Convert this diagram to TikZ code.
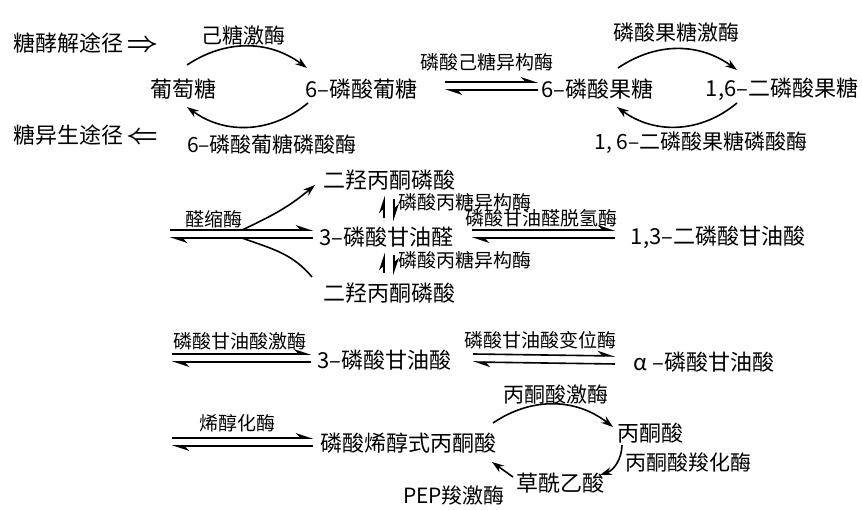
\documentclass[tikz,border=0pt]{standalone}
\usepackage{fontspec}
\setmainfont{Noto Sans CJK SC}
\usetikzlibrary{arrows.meta}

\begin{document}
\begin{tikzpicture}[
    x=1pt, y=1pt,
    chem/.style={inner sep=0pt, font=\fontsize{22}{26}\selectfont},
    enzb/.style={inner sep=0pt, font=\fontsize{21}{25}\selectfont},
    enz/.style={inner sep=0pt, font=\fontsize{19}{22}\selectfont},
    arr/.style={-{Stealth[length=12pt, width=8pt]}, line width=1.6pt},
    eq/.style={-{Stealth[harpoon, length=15pt, width=10pt]}, line width=1.6pt},
    link/.style={line width=1.6pt},
  ]
    \useasboundingbox (0,0) rectangle (862,510);

    % hexose steps
    \node[chem, anchor=west] (glyc)  at (13,467)  {糖酵解途径\,\scalebox{1.35}{\boldmath$\Rightarrow$}};
    \node[chem, anchor=west] (gneo)  at (13,375)  {糖异生途径\,\scalebox{1.35}{\boldmath$\Leftarrow$}};
    \node[chem] (glc)    at (183,421) {葡萄糖};
    \node[chem] (g6p)    at (361,421) {6–磷酸葡糖};
    \node[chem] (f6p)    at (597,421) {6–磷酸果糖};
    \node[chem] (fbp)    at (782,421) {1,6–二磷酸果糖};
    \node[enzb] (hk)     at (243,475) {己糖激酶};
    \node[enzb] (g6pase) at (272,365) {6–磷酸葡糖磷酸酶};
    \node[enz]  (pgi)    at (487,448) {磷酸己糖异构酶};
    \node[enzb] (pfk)    at (676,477) {磷酸果糖激酶};
    \node[enzb] (fbpase) at (701,367) {1, 6–二磷酸果糖磷酸酶};

    \draw[arr] ([shift={(4,24)}]glc.center) to[bend left=35] ([shift={(-54,21)}]g6p.center);
    \draw[arr] ([shift={(-53,-14)}]g6p.center) to[bend left=38] ([shift={(4,-18)}]glc.center);
    \draw[eq]  ([shift={(84,7)}]g6p.center) -- ([shift={(-59,7)}]f6p.center);
    \draw[eq]  ([shift={(-59,-1)}]f6p.center) -- ([shift={(84,-1)}]g6p.center);
    \draw[arr] ([shift={(21,21)}]f6p.center) to[bend left=35] ([shift={(-45,19)}]fbp.center);
    \draw[arr] ([shift={(-45,-14)}]fbp.center) to[bend left=38] ([shift={(20,-18)}]f6p.center);

    % triose steps
    \node[chem] (dhapa) at (389,330) {二羟丙酮磷酸};
    \node[chem] (gap)   at (386,273) {3–磷酸甘油醛};
    \node[chem] (bpg)   at (718,273) {1,3–二磷酸甘油酸};
    \node[chem] (dhapb) at (389,217) {二羟丙酮磷酸};
    \node[enz]  (ald)   at (214,291) {醛缩酶};
    \node[enz]  (gapdh) at (541,292) {磷酸甘油醛脱氢酶};
    \node[enz, anchor=west] (tima) at (398,308) {磷酸丙糖异构酶};
    \node[enz, anchor=west] (timb) at (398,250) {磷酸丙糖异构酶};
    \coordinate (aldin) at (170,273);

    \draw[eq]   ([shift={(0,7)}]aldin) -- ([shift={(-73,7)}]gap.center);
    \draw[eq]   ([shift={(-73,-1)}]gap.center) -- ([shift={(0,-1)}]aldin);
    \draw[arr]  ([shift={(-144,7)}]gap.center) to[out=25, in=220] ([shift={(-74,-5)}]dhapa.center);
    \draw[link] ([shift={(-77,16)}]dhapb.center) to[out=130, in=-20] ([shift={(-144,-1)}]gap.center);
    \draw[eq]   ([shift={(-2,19)}]gap.center) -- ([shift={(-5,-16)}]dhapa.center);
    \draw[eq]   ([shift={(5,-19)}]dhapa.center) -- ([shift={(8,16)}]gap.center);
    \draw[eq]   ([shift={(-5,20)}]dhapb.center) -- ([shift={(-2,-16)}]gap.center);
    \draw[eq]   ([shift={(8,-18)}]gap.center) -- ([shift={(5,18)}]dhapb.center);
    \draw[eq]   ([shift={(86,7)}]gap.center) -- ([shift={(-103,7)}]bpg.center);
    \draw[eq]   ([shift={(-103,-1)}]bpg.center) -- ([shift={(86,-1)}]gap.center);

    % glycerate steps
    \node[chem] (pgac) at (384,150) {3–磷酸甘油酸};
    \node[chem] (pgab) at (704,148) {α –磷酸甘油酸};
    \node[enz]  (pgk)  at (240,169) {磷酸甘油酸激酶};
    \node[enz]  (pgm)  at (540,170) {磷酸甘油酸变位酶};
    \coordinate (pgkin) at (172,150);

    \draw[eq] ([shift={(0,6)}]pgkin) -- ([shift={(-73,6)}]pgac.center);
    \draw[eq] ([shift={(-73,-2)}]pgac.center) -- ([shift={(0,-2)}]pgkin);
    \draw[eq] ([shift={(89,6)}]pgac.center) -- ([shift={(-89,6)}]pgab.center);
    \draw[eq] ([shift={(-89,-2)}]pgab.center) -- ([shift={(89,-2)}]pgac.center);

    % pyruvate cycle
    \node[chem] (pep)   at (408,67)  {磷酸烯醇式丙酮酸};
    \node[chem] (pyr)   at (650,77)  {丙酮酸};
    \node[chem] (oaa)   at (560,27)  {草酰乙酸};
    \node[enz]  (eno)   at (237,87)  {烯醇化酶};
    \node[enzb] (pk)    at (556,115) {丙酮酸激酶};
    \node[enzb] (pc)    at (688,48)  {丙酮酸羧化酶};
    \node[enzb] (pepck) at (454,15)  {PEP羧激酶};
    \coordinate (enoin) at (172,67);

    \draw[eq]  ([shift={(0,5)}]enoin) -- ([shift={(-95,5)}]pep.center);
    \draw[eq]  ([shift={(-95,-3)}]pep.center) -- ([shift={(0,-3)}]enoin);
    \draw[arr] ([shift={(85,20)}]pep.center) to[bend left=36] ([shift={(-37,6)}]pyr.center);
    \draw[arr] ([shift={(-28,-12)}]pyr.center) to[bend left=35] ([shift={(40,8)}]oaa.center);
    \draw[arr] ([shift={(-47,6)}]oaa.center) -- ([shift={(84,-19)}]pep.center);
\end{tikzpicture}
\end{document}
